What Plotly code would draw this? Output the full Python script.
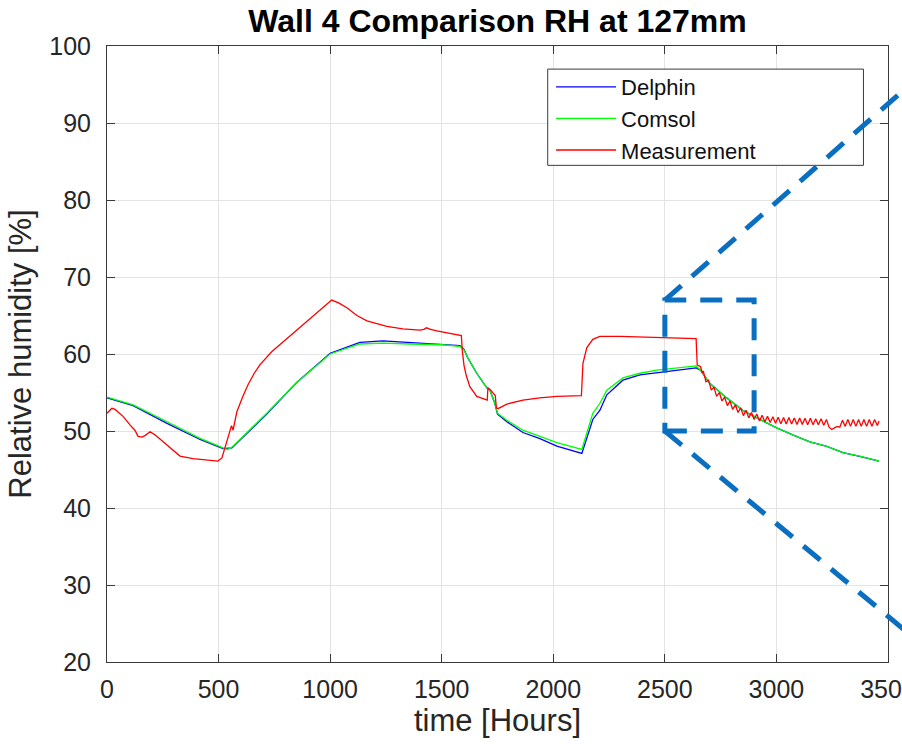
import plotly.graph_objects as go

# ---- data -------------------------------------------------------------
delphin_t = [0, 117, 269, 417, 520, 560, 716, 850, 1000, 1133, 1237, 1357, 1500,
             1582, 1600, 1617, 1657, 1702, 1716, 1738, 1750, 1792, 1864, 1940,
             2016, 2128, 2177, 2209, 2240, 2312, 2388, 2464, 2550, 2640, 2660,
             2701, 2777, 2849, 2912, 3001, 3073, 3150, 3226, 3298, 3373, 3460]
delphin_rh = [54.3, 53.3, 51.0, 48.9, 47.7, 47.8, 52.2, 56.3, 60.1, 61.5, 61.7,
              61.5, 61.3, 61.1, 60.6, 59.5, 57.5, 55.6, 55.3, 53.6, 52.2, 51.2,
              49.8, 49.0, 48.05, 47.1, 51.5, 52.7, 54.7, 56.6, 57.3, 57.6, 57.9,
              58.2, 57.9, 56.2, 54.3, 52.7, 51.7, 50.4, 49.5, 48.6, 48.0, 47.2,
              46.7, 46.1]

comsol_t = [0, 117, 269, 417, 520, 540, 560, 716, 850, 1000, 1133, 1237, 1357,
            1500, 1582, 1600, 1617, 1657, 1702, 1716, 1738, 1750, 1792, 1864,
            1940, 2016, 2128, 2177, 2209, 2240, 2312, 2388, 2464, 2612, 2640,
            2660, 2701, 2777, 2849, 2912, 3001, 3073, 3150, 3226, 3298, 3373, 3460]
comsol_rh = [54.4, 53.4, 51.2, 49.05, 47.8, 47.6, 47.9, 52.3, 56.3, 60.0, 61.3,
             61.4, 61.3, 61.2, 61.0, 60.5, 59.5, 57.5, 55.6, 55.3, 53.6, 52.3,
             51.4, 50.1, 49.3, 48.5, 47.6, 52.3, 53.6, 55.3, 56.9, 57.5, 57.9,
             58.4, 58.45, 57.9, 56.2, 54.3, 52.7, 51.7, 50.4, 49.5, 48.6, 48.0,
             47.2, 46.75, 46.1]

meas_t = [0, 22, 36, 72, 103, 125, 139, 157, 170, 193, 215, 269, 327, 385, 448,
          497, 515, 528, 551, 558, 565, 582, 609, 632, 660, 685, 738, 790, 834,
          923, 1007, 1040, 1075, 1120, 1165, 1254, 1326, 1402, 1420, 1432, 1450,
          1478, 1582, 1588, 1592, 1600, 1610, 1626, 1657, 1700, 1704, 1707, 1720,
          1734, 1740, 1745, 1752, 1792, 1864, 1940, 2016, 2126, 2133, 2150, 2177,
          2209, 2300, 2450, 2612, 2640, 2645, 2660, 2668,
          2672, 2684, 2696, 2708, 2720, 2732, 2744, 2756, 2768, 2780, 2792, 2804,
          2816, 2828, 2840, 2852, 2864, 2876, 2888, 2900, 2912, 2924, 2936, 2948,
          2960, 2972, 2984, 2996, 3008, 3020, 3032, 3044, 3056, 3068, 3080, 3092,
          3104, 3116, 3128, 3140, 3152, 3164, 3176, 3188, 3200, 3212, 3224, 3236,
          3248, 3260, 3272, 3284, 3296, 3308, 3320, 3332, 3344, 3356, 3368, 3380,
          3392, 3404, 3416, 3428, 3440, 3452, 3460]
meas_rh = [52.3, 52.95, 52.8, 51.9, 50.8, 50.1, 49.3, 49.2, 49.4, 49.9, 49.5,
           48.2, 46.75, 46.4, 46.25, 46.1, 46.5, 47.7, 50.1, 50.7, 50.1, 52.5,
           54.5, 56.0, 57.5, 58.6, 60.3, 61.6, 62.7, 65.0, 67.0, 66.6, 66.0, 65.0,
           64.3, 63.6, 63.25, 63.1, 63.2, 63.4, 63.2, 63.0, 62.5, 62.4, 60.5, 58.5,
           57.2, 55.75, 54.5, 54.0, 54.0, 55.6, 55.3, 54.8, 54.6, 53.0, 52.9, 53.5,
           54.0, 54.3, 54.5, 54.6, 58.8, 60.8, 61.9, 62.3, 62.3, 62.15, 62.05,
           62.0, 58.6, 58.35, 57.5,
           57.8, 56.4, 56.6, 55.3, 55.7, 54.5, 55.0, 53.9, 54.4, 53.3, 53.9, 52.8,
           53.4, 52.4, 53.0, 52.0, 52.7, 51.7, 52.4, 51.5, 52.2, 51.3, 52.05, 51.2,
           51.9, 51.1, 51.85, 51.0, 51.8, 50.95, 51.75, 50.9, 51.75, 50.9, 51.7,
           50.85, 51.7, 50.85, 51.65, 50.8, 51.65, 50.8, 51.6, 50.8, 51.6, 50.75,
           51.5, 50.5, 50.2, 50.4, 50.6, 50.5, 51.4, 50.6, 51.5, 50.6, 51.5, 50.6,
           51.5, 50.6, 51.5, 50.6, 51.5, 50.6, 51.5, 50.7, 51.3]

x_ticks = [0, 500, 1000, 1500, 2000, 2500, 3000, 3500]
y_ticks = [20, 30, 40, 50, 60, 70, 80, 90, 100]
x_range = [0, 3500]
y_range = [20, 100]

# zoom window highlighted on the plot (hours, % RH)
zoom_t = [2500, 2900]
zoom_rh = [50, 67]
# far ends of the two guide lines leaving the zoom window
guide_t_end = 3780
guide_rh_end = [99.6, 19.2]

# legend frame, in axis units
legend_t = [1975, 3390]
legend_rh = [84.5, 97.0]

ZOOM_BLUE = "#0A6FC0"
FONT = "Liberation Sans, Arial, sans-serif"
TXT = "#262626"


def px(v):
    return (v - x_range[0]) / (x_range[1] - x_range[0])


def py(v):
    return (v - y_range[0]) / (y_range[1] - y_range[0])


fig = go.Figure()
fig.add_trace(go.Scatter(x=delphin_t, y=delphin_rh, mode="lines", name="Delphin",
                         line=dict(color="rgb(0,0,255)", width=1.3)))
fig.add_trace(go.Scatter(x=comsol_t, y=comsol_rh, mode="lines", name="Comsol",
                         line=dict(color="rgb(0,255,0)", width=1.3)))
fig.add_trace(go.Scatter(x=meas_t, y=meas_rh, mode="lines", name="Measurement",
                         line=dict(color="rgb(255,0,0)", width=1.3)))

# white legend frame (drawn first so the guide line crosses over it)
fig.add_shape(type="rect", xref="paper", yref="paper",
              x0=px(legend_t[0]), x1=px(legend_t[1]),
              y0=py(legend_rh[0]), y1=py(legend_rh[1]),
              line=dict(color="#3a3a3a", width=1), fillcolor="white",
              layer="above")

dash_style = dict(color=ZOOM_BLUE, width=5, dash="22px,14px")
fig.add_shape(type="rect", xref="x", yref="y",
              x0=zoom_t[0], x1=zoom_t[1], y0=zoom_rh[0], y1=zoom_rh[1],
              line=dash_style, layer="above")
fig.add_shape(type="line", xref="paper", yref="paper",
              x0=px(zoom_t[0]), y0=py(zoom_rh[1]),
              x1=px(guide_t_end), y1=py(guide_rh_end[0]),
              line=dash_style, layer="above")
fig.add_shape(type="line", xref="paper", yref="paper",
              x0=px(zoom_t[0]), y0=py(zoom_rh[0]),
              x1=px(guide_t_end), y1=py(guide_rh_end[1]),
              line=dash_style, layer="above")

axis_common = dict(
    showgrid=True, gridcolor="#e3e3e3", gridwidth=1,
    showline=True, linecolor="#3a3a3a", linewidth=1, mirror="ticks",
    ticks="inside", ticklen=8, tickcolor="#3a3a3a",
    tickfont=dict(family=FONT, size=25, color=TXT),
    zeroline=False, automargin=False, ticklabeloverflow="allow",
)

fig.update_layout(
    width=902, height=750,
    margin=dict(l=107, r=14, t=46, b=88),
    paper_bgcolor="white", plot_bgcolor="white",
    font=dict(family=FONT, color=TXT),
    title=dict(text="<b>Wall 4 Comparison RH at 127mm</b>",
               font=dict(family=FONT, size=32, color="black"),
               x=0.5, xref="paper", xanchor="center",
               y=1 - 21 / 750, yref="container", yanchor="middle"),
    xaxis=dict(range=x_range, tickvals=x_ticks,
               title=dict(text="time [Hours]", standoff=6,
                          font=dict(family=FONT, size=31, color=TXT)),
               ticklabelstandoff=5, **axis_common),
    yaxis=dict(range=y_range, tickvals=y_ticks,
               title=dict(text="Relative humidity [%]", standoff=8,
                          font=dict(family=FONT, size=31, color=TXT)),
               ticklabelstandoff=10, **axis_common),
    legend=dict(x=px(legend_t[0] + 15), y=py(97.4),
                xanchor="left", yanchor="top",
                bgcolor="rgba(0,0,0,0)", borderwidth=0,
                font=dict(family=FONT, size=22, color="#111111"),
                itemwidth=60, tracegroupgap=0),
    showlegend=True,
)

fig.write_html("out.html")
